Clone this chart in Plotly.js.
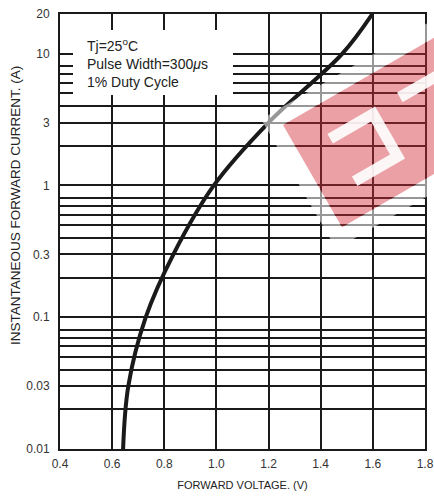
<!DOCTYPE html>
<html>
<head>
<meta charset="utf-8">
<script src="https://cdn.plot.ly/plotly-3.0.1.min.js"></script>
<style>html,body{margin:0;padding:0;background:#fff;}#chart{width:434px;height:497px;}</style>
</head>
<body>
<div id="chart"></div>
<script>
// ---- data ----
const forwardVoltage = [0.642, 0.662, 0.729, 0.835, 0.99, 1.20, 1.483, 1.598];
const forwardCurrent = [0.01, 0.03, 0.1, 0.3, 1.0, 3.0, 10, 20];

const xTickVals = [0.4, 0.6, 0.8, 1.0, 1.2, 1.4, 1.6, 1.8];
const xTickText = ["0.4", "0.6", "0.8", "1.0", "1.2", "1.4", "1.6", "1.8"];
const yLabelVals = [0.01, 0.03, 0.1, 0.3, 1, 3, 10, 20];
const yLabelText = ["0.01", "0.03", "0.1", "0.3", "1", "3", "10", "20"];
const yMinorVals = [0.02, 0.04, 0.05, 0.06, 0.07, 0.08, 0.2, 0.4, 0.5, 0.6, 0.7, 0.8, 2, 4, 5, 6, 7, 8];

const conditionText = ["Tj=25<sup>o</sup>C", "Pulse Width=300<i>μ</i>s", "1% Duty Cycle"];
const xTitle = "FORWARD VOLTAGE. (V)";
const yTitle = "INSTANTANEOUS FORWARD CURRENT. (A)";

// ---- layout helpers ----
const W = 434, H = 497;
const M = {l: 60, r: 9, t: 14, b: 48};
const plotW = W - M.l - M.r, plotH = H - M.t - M.b;
const px2paperX = px => (px - M.l) / plotW;
const px2paperY = py => (H - M.b - py) / plotH;

// watermark (decorative overlay) in a rotated local frame
const O = [283, 125];
const U = [Math.cos(Math.PI / 6), -Math.sin(Math.PI / 6)];
const V = [Math.sin(Math.PI / 6), Math.cos(Math.PI / 6)];
function P(u, v) {
  const x = O[0] + u * U[0] + v * V[0];
  const y = O[1] + u * U[1] + v * V[1];
  return px2paperX(x).toFixed(4) + "," + px2paperY(y).toFixed(4);
}
function rectPath(u0, u1, v0, v1, reverse) {
  const pts = reverse
    ? [P(u0, v0), P(u0, v1), P(u1, v1), P(u1, v0)]
    : [P(u0, v0), P(u1, v0), P(u1, v1), P(u0, v1)];
  return "M" + pts.join("L") + "Z";
}
function polyPath(list) {
  return "M" + list.map(p => P(p[0], p[1])).join("L") + "Z";
}

const shapes = [
  // white box behind condition text
  {type: "rect", xref: "paper", yref: "paper", layer: "above",
   x0: px2paperX(73), x1: px2paperX(233), y0: px2paperY(95), y1: px2paperY(30),
   fillcolor: "#ffffff", line: {width: 0}},
  // watermark: translucent white frame
  {type: "path", xref: "paper", yref: "paper", layer: "above",
   path: rectPath(-16, 260, -16, 134, false) + rectPath(0, 244, 0, 118, true),
   fillcolor: "rgba(255,255,255,0.55)", line: {width: 0}},
  // watermark: red block
  {type: "path", xref: "paper", yref: "paper", layer: "above",
   path: rectPath(0, 244, 0, 118, false),
   fillcolor: "rgba(210,44,55,0.45)", line: {width: 0}},
  // watermark: white glyphs
  {type: "path", xref: "paper", yref: "paper", layer: "above",
   path: polyPath([[34, 30], [89, 30], [89, 90], [34, 90], [34, 79], [78, 79], [78, 41], [34, 41]]),
   fillcolor: "rgba(255,255,255,0.9)", line: {width: 0}},
  {type: "path", xref: "paper", yref: "paper", layer: "above",
   path: rectPath(115, 240, 29, 40, false),
   fillcolor: "rgba(255,255,255,0.9)", line: {width: 0}}
];

const trace = {
  x: forwardVoltage,
  y: forwardCurrent,
  type: "scatter",
  mode: "lines",
  line: {color: "#1a1a1a", width: 4, shape: "spline", smoothing: 1.0},
  hoverinfo: "skip"
};

const fam = "'Liberation Sans', Arial, sans-serif";

const layout = {
  width: W, height: H,
  margin: M,
  paper_bgcolor: "#ffffff",
  plot_bgcolor: "#ffffff",
  showlegend: false,
  font: {family: fam, color: "#333", size: 12},
  xaxis: {
    type: "linear", range: [0.4, 1.8],
    tickmode: "array", tickvals: xTickVals, ticktext: xTickText,
    ticks: "", ticklabelstandoff: 3,
    showgrid: true, gridcolor: "#1a1a1a", gridwidth: 2,
    showline: true, linecolor: "#1a1a1a", linewidth: 2, mirror: true,
    zeroline: false,
    tickfont: {family: fam, size: 12, color: "#333"},
    title: {text: xTitle, font: {family: fam, size: 11, color: "#222"}, standoff: 11}
  },
  yaxis: {
    type: "log", range: [Math.log10(0.01), Math.log10(20)],
    tickmode: "array", tickvals: yLabelVals, ticktext: yLabelText,
    ticks: "", ticklabelstandoff: 6,
    showgrid: true, gridcolor: "#1a1a1a", gridwidth: 2,
    minor: {tickmode: "array", tickvals: yMinorVals, ticks: "", showgrid: true, gridcolor: "#1a1a1a", gridwidth: 2},
    showline: true, linecolor: "#1a1a1a", linewidth: 2, mirror: true,
    zeroline: false,
    tickfont: {family: fam, size: 12, color: "#333"}
  },
  shapes: shapes,
  annotations: [
    {
      xref: "paper", yref: "paper",
      x: px2paperX(86), y: px2paperY(63),
      xanchor: "left", yanchor: "middle", align: "left",
      showarrow: false, borderpad: 0,
      text: conditionText.join("<br>"),
      font: {family: fam, size: 14, color: "#222"}
    },
    {
      xref: "paper", yref: "paper",
      x: px2paperX(15), y: px2paperY(206),
      xanchor: "center", yanchor: "middle",
      showarrow: false, textangle: -90,
      text: yTitle,
      font: {family: fam, size: 13.5, color: "#222"}
    }
  ]
};

Plotly.newPlot("chart", [trace], layout, {displayModeBar: false, staticPlot: true});
</script>
</body>
</html>
